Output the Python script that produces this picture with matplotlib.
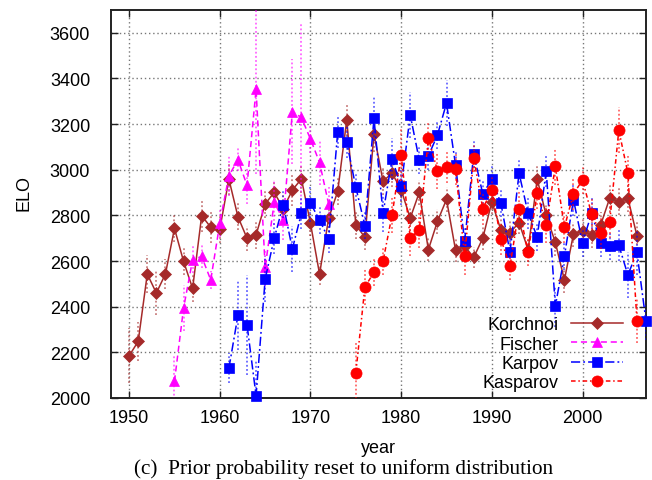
import matplotlib
matplotlib.use('Agg')
import matplotlib.pyplot as plt

# ---------------- data ----------------
korchnoi_years = list(range(1950, 2007))
korchnoi_elo = [2185, 2248, 2543, 2460, 2543, 2743, 2599, 2480, 2799, 2748,
                2740, 2959, 2794, 2700, 2715, 2850, 2901, 2830, 2911, 2960,
                2765, 2543, 2787, 2905, 3219, 2758, 2704, 3156, 2950, 2985,
                2912, 2788, 2901, 2650, 2774, 2870, 2647, 2665, 2616, 2700,
                2860, 2735, 2725, 2768, 2650, 2959, 2800, 2682, 2517, 2718,
                2733, 2714, 2758, 2876, 2860, 2876, 2711]
korchnoi_err = [120, 85, 85, 95, 65, 60, 60, 60, 70, 70,
                60, 70, 60, 55, 60, 60, 55, 60, 70, 60,
                55, 50, 60, 60, 70, 60, 55, 80, 60, 60,
                55, 55, 55, 50, 55, 55, 50, 50, 45, 50,
                55, 50, 50, 50, 55, 60, 55, 60, 55, 55,
                50, 55, 55, 60, 60, 60, 60]

fischer_years = list(range(1955, 1973))
fischer_elo = [2073, 2393, 2606, 2620, 2517, 2766, 2974, 3044, 2932, 3353,
               2572, 2857, 2781, 3254, 3229, 3134, 3032, 2850]
fischer_err = [115, 100, 60, 50, 40, 60, 90, 50, 80, 370,
               80, 100, 90, 230, 420, 60, 100, 80]

karpov_years = list(range(1961, 2008))
karpov_elo = [2130, 2362, 2321, 2010, 2521, 2700, 2847, 2653, 2809, 2853,
              2780, 2696, 3164, 3120, 2923, 2755, 3225, 2809, 3047, 2927,
              3240, 3042, 3061, 3152, 3292, 3020, 2686, 3069, 2894, 2959,
              2853, 2638, 2985, 2809, 2705, 2995, 2402, 2621, 2869, 2679,
              2810, 2679, 2664, 2670, 2539, 2638, 2336]
karpov_err = [65, 150, 220, 150, 100, 70, 60, 100, 70, 80,
              60, 60, 70, 70, 60, 60, 100, 80, 90, 80,
              100, 60, 60, 60, 100, 60, 60, 60, 60, 60,
              60, 80, 60, 70, 60, 70, 90, 60, 70, 60,
              70, 60, 60, 70, 100, 100, 80]

kasparov_years = list(range(1975, 2007))
kasparov_elo = [2110, 2487, 2550, 2599, 2803, 3064, 2700, 2737, 3139, 2996,
                3010, 3003, 2621, 3051, 2830, 2911, 2696, 2577, 2828, 2638,
                2898, 2758, 3015, 2748, 2894, 2955, 2806, 2721, 2772, 3174,
                2985, 2339]
kasparov_err = [130, 80, 60, 60, 80, 115, 80, 80, 70, 80,
                70, 70, 80, 60, 70, 60, 70, 60, 80, 60,
                70, 80, 80, 70, 70, 60, 70, 70, 70, 100,
                80, 100]

x_ticks = [1950, 1960, 1970, 1980, 1990, 2000]
y_ticks = [2000, 2200, 2400, 2600, 2800, 3000, 3200, 3400, 3600]

# ---------------- style ----------------
plt.rcParams['font.family'] = ['Liberation Sans', 'DejaVu Sans']
FS = 13

fig = plt.figure(figsize=(6.52, 4.81), dpi=100)
ax = fig.add_axes([111/652, 1-399/481, 535/652, 388/481])

series = [
    ("Korchnoi", korchnoi_years, korchnoi_elo, korchnoi_err, '#A52A2A', '-', 'D', 6.3),
    ("Fischer", fischer_years, fischer_elo, fischer_err, '#FF00FF', (0, (4, 2.5)), '^', 7.0),
    ("Karpov", karpov_years, karpov_elo, karpov_err, '#0000FF', (0, (6, 2, 1.2, 2)), 's', 7.5),
    ("Kasparov", kasparov_years, kasparov_elo, kasparov_err, '#FF0000', (0, (3, 1.8, 1, 1.8)), 'o', 8.0),
]

for i, (name, xs, ys, es, col, ls, mk, ms) in enumerate(series):
    lo = [y - e for y, e in zip(ys, es)]
    hi = [y + e for y, e in zip(ys, es)]
    ax.vlines(xs, lo, hi, colors=col, linestyles=(0, (1, 1.3)), linewidth=1.3,
              alpha=0.6, zorder=2 + i)
    ax.plot(xs, ys, color=col, linestyle=ls, linewidth=1.1, marker=mk,
            markersize=ms, markeredgewidth=0.5, label=name, clip_on=False,
            zorder=3 + i)

ax.set_xlim(1948, 2007)
ax.set_ylim(2000, 3700)
ax.set_xticks(x_ticks)
ax.set_yticks(y_ticks)
ax.tick_params(axis='both', direction='in', length=5, width=1, top=True,
               right=True, labelsize=FS, color='#222222')
ax.tick_params(axis='y', pad=15)
ax.tick_params(axis='x', pad=8)
ax.grid(True, color='#777777', linestyle=(0, (1, 2)), linewidth=1.0)
ax.set_axisbelow(True)
for sp in ax.spines.values():
    sp.set_linewidth(1.4)
    sp.set_color('#222222')

fig.text(24.5/652, 1-193/481, "ELO", rotation=90, ha='center', va='center',
         fontsize=FS)
fig.text(378/652, 1-452.7/481, "year", ha='center', va='baseline', fontsize=FS)
fig.text(344/652, 1-474/481,
         "(c)  Prior probability reset to uniform distribution",
         ha='center', va='baseline', fontsize=15.3,
         family=['Liberation Serif', 'DejaVu Serif'])

leg = ax.legend(loc='lower right', bbox_to_anchor=((623-111)/535, (399-392)/388),
                frameon=False, markerfirst=False, fontsize=FS,
                handlelength=2.9, handletextpad=0.65, labelspacing=0.12,
                borderpad=0, borderaxespad=0)

fig.savefig('out.png', dpi=100)
